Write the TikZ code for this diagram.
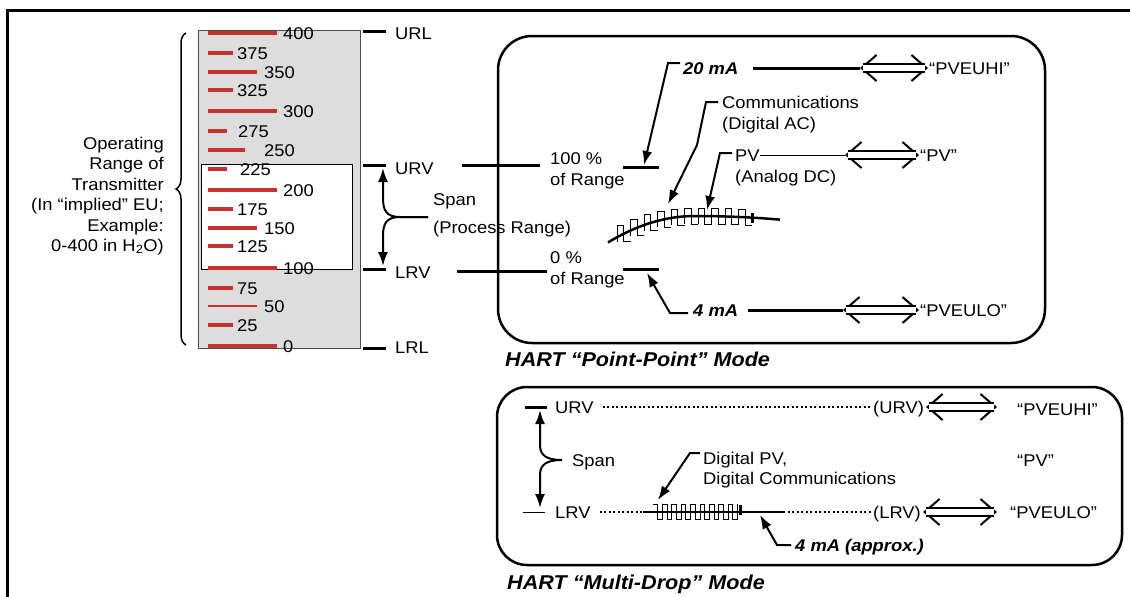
\documentclass[tikz,border=0pt]{standalone}
\usepackage{fontspec}
\setmainfont[FakeStretch=1.08]{Liberation Sans}
\usetikzlibrary{arrows.meta,decorations.pathreplacing}
\definecolor{tickred}{RGB}{200,50,45}
\definecolor{scalegray}{RGB}{221,221,221}
\begin{document}
\begin{tikzpicture}[x=1pt,y=-1pt,
    txt/.style={inner sep=0pt,font=\fontsize{17}{20.4}\selectfont},
    lbl/.style={txt,anchor=west,text height=12pt,text depth=0pt},
    bilbl/.style={lbl,font=\fontsize{17}{20.4}\selectfont\bfseries\itshape},
    modelbl/.style={lbl,font=\fontsize{20}{22}\selectfont\bfseries\itshape},
    redtick/.style={tickred,line width=4pt},
    thk/.style={line width=3pt},
    ptr/.style={line width=2pt,-{Latex[length=14pt,width=10pt]}},
    barb/.tip={Straight Barb[length=15pt,width=26pt,line width=2pt,color=black]},
    dblarr/.style={draw=white,line width=2pt,{barb}-{barb},
      postaction={draw=black,double=white,double distance=6pt,line width=2pt,-,
        shorten <=3pt,shorten >=3pt}},
    rbox/.style={line width=2.5pt,rounded corners=34pt},
    wave/.style={line width=0.9pt},
    dots/.style={line width=2pt,dash pattern=on 2pt off 2.5pt},
  ]
\useasboundingbox (0,0) rectangle (1130,597);
% frame
\draw[line width=3pt] (7,598) -- (7,10) -- (1131,10);

% transmitter scale
\filldraw[fill=scalegray,draw=black!70,line width=1pt] (198,30) rectangle (360,348);
\filldraw[fill=white,line width=1pt] (201,164) rectangle (352,269);
\foreach \v/\y/\e/\l/\w in {400/33/277/283/4, 375/53/233/237/4, 350/72/257/264/4,
    325/90/233/237/4, 300/111/277/283/4, 275/131/227/238/4, 250/150/245/264/4,
    225/169/227/240/4, 200/190/277/283/4, 175/209/233/237/4, 150/228/257/264/4,
    125/246/233/237/4, 100/268/277/283/4, 75/288/233/237/4, 50/306/257/264/1.2,
    25/325/233/237/4, 0/346/277/283/4}
  {\draw[redtick,line width=\w pt] (208,\y) -- (\e,\y);
   \node[lbl] (v\v) at (\l,\y) {\v};}

% operating range
\draw[line width=1.5pt,decorate,decoration={brace,amplitude=10pt}] (186,345) -- (186,33);
\node[txt,align=right,anchor=east] (oprange) at (164,196)
  {Operating\\Range of\\Transmitter\\(In “implied” EU;\\Example:\\0-400 in H\textsubscript{2}O)};

% range marks
\draw[thk] (363,31) -- (386,31);
\node[lbl] (url) at (395,33) {URL};
\draw[thk] (363,165) -- (386,165);
\node[lbl] (urv) at (395,168) {URV};
\draw[thk] (363,269) -- (386,269);
\node[lbl] (lrv) at (395,272) {LRV};
\draw[thk] (363,348) -- (386,348);
\node[lbl] (lrl) at (395,347) {LRL};

% span
\coordinate (spanmid) at (428,217);
\coordinate (spantop) at (383,168);
\coordinate (spanbot) at (383,266);
\draw[ptr] (spanmid) -- (400,217) .. controls (386,217) and (383,210) .. (383,198) -- (spantop);
\draw[ptr] (spanmid) -- (400,217) .. controls (386,217) and (383,224) .. (383,236) -- (spanbot);
\node[lbl] (span) at (433,199) {Span};
\node[lbl] (procrange) at (433,227) {(Process Range)};

% point-point mode
\draw[rbox] (498,36) rectangle (1045,343);
\node[modelbl] (ppmode) at (505,360) {HART “Point-Point” Mode};
\draw[thk] (462,165) -- (540,165);
\draw[thk] (457,271) -- (547,271);
\node[lbl] (hund) at (550,158) {100 \%};
\node[lbl] (hundr) at (550,179) {of Range};
\node[lbl] (zero) at (550,257) {0 \%};
\node[lbl] (zeror) at (550,278) {of Range};
\draw[thk] (623,167) -- (659,167);
\draw[thk] (623,269) -- (659,269);
\coordinate (hi) at (644,165);
\coordinate (lo) at (647,273);

\node[bilbl] (ma20) at (683,68) {20 mA};
\node[lbl] (pveuhi) at (929,68) {“PVEUHI”};
\coordinate (hiend) at (860,68);
\draw[thk] ([xshift=14pt]ma20.east) -- (hiend);
\draw[dblarr] (hiend) -- ([xshift=-1pt]pveuhi.west);
\draw[ptr] (ma20.west) ++(-3,-5) -- ++(-12,0) -- (hi);

\node[lbl] (comm) at (722,102) {Communications};
\node[lbl] (digac) at (722,123) {(Digital AC)};
\coordinate (wavec) at (668,204);
\draw[ptr] (comm.west) ++(-4,0) -- ++(-12,0) -- (697,145) -- (wavec);

\node[lbl] (pvlbl) at (735,155) {PV};
\node[lbl] (pvana) at (735,176) {(Analog DC)};
\node[lbl] (pvq) at (920,155) {“PV”};
\coordinate (pvend) at (845,155);
\coordinate (wavep) at (707,210);
\draw[line width=1pt] (pvlbl.east) -- (pvend);
\draw[dblarr] (pvend) -- ([xshift=-1pt]pvq.west);
\draw[ptr] (pvlbl.west) ++(-3,-2) -- ++(-12,0) -- (wavep);

\node[bilbl] (ma4) at (693,310) {4 mA};
\node[lbl] (pveulo) at (920,310) {“PVEULO”};
\coordinate (loend) at (843,310);
\draw[thk] ([xshift=10pt]ma4.east) -- (loend);
\draw[dblarr] (loend) -- ([xshift=-1pt]pveulo.west);
\draw[ptr] (ma4.west) ++(-5,3) -- ++(-18,0) -- (lo);

% analog signal with digital ripple
\draw[line width=2.5pt,domain=608:780,samples=60]
  plot (\x,{\x<695 ? 216+0.0035*(\x-695)^2 : 216+0.0005*(\x-695)^2});
\foreach \i in {0,...,9} {
  \pgfmathsetmacro\xa{617+13.5*\i}
  \pgfmathsetmacro\xm{\xa+6.75}
  \pgfmathsetmacro\xb{\xa+13.5}
  \pgfmathsetmacro\yb{\xm<695 ? 216+0.0035*(\xm-695)^2 : 216+0.0005*(\xm-695)^2}
  \draw[wave] (\xa,\yb+8) -- (\xa,\yb-8) -- (\xm,\yb-8) -- (\xm,\yb+8) -- (\xb,\yb+8);
}
\draw[line width=3pt] (752,213) -- (752,223);

% multi-drop mode
\draw[rbox,rounded corners=30pt] (497,387) rectangle (1122,565);
\node[modelbl] (mdmode) at (507,583) {HART “Multi-Drop” Mode};
\draw[thk] (525,407) -- (547,407);
\node[lbl] (murv) at (555,407) {URV};
\draw[line width=1pt] (523,512) -- (545,512);
\node[lbl] (mlrv) at (555,512) {LRV};
\node[lbl] (murvq) at (873,407) {(URV)};
\node[lbl] (mlrvq) at (873,512) {(LRV)};
\node[lbl] (mpveuhi) at (1017,409) {“PVEUHI”};
\node[lbl] (mpv) at (1017,460) {“PV”};
\node[lbl] (mpveulo) at (1010,512) {“PVEULO”};
\draw[dots] ([xshift=9pt]murv.east) -- ([xshift=-2pt]murvq.west);
\draw[dblarr] ([xshift=2pt]murvq.east) -- (997,407);
\draw[dblarr] ([xshift=2pt]mlrvq.east) -- (997,512);
\coordinate (mdstart) at (643,512);
\coordinate (mdend) at (783,512);
\draw[dots] ([xshift=9pt]mlrv.east) -- (mdstart);
\draw[line width=2.5pt] (mdstart) -- (mdend);
\draw[dots] (mdend) -- ([xshift=-2pt]mlrvq.west);
\foreach \i in {0,...,8} {
  \pgfmathsetmacro\xa{653+9.4*\i}
  \pgfmathsetmacro\xm{\xa+4.7}
  \pgfmathsetmacro\xb{\xa+9.4}
  \draw[wave] (\xa,504) -- (\xm,504) -- (\xm,519) -- (\xb,519) -- (\xb,504);
}
\draw[line width=3pt] (740,505) -- (740,515);

\coordinate (mspan) at (562,460);
\coordinate (mspantop) at (540,410);
\coordinate (mspanbot) at (540,508);
\draw[ptr] (mspan) .. controls (546,460) and (540,455) .. (540,445) -- (mspantop);
\draw[ptr] (mspan) .. controls (546,460) and (540,465) .. (540,475) -- (mspanbot);
\node[lbl] (mspanl) at (572,460) {Span};

\node[lbl] (dpv) at (703,458) {Digital PV,};
\node[lbl] (dcomm) at (703,478) {Digital Communications};
\coordinate (mwave) at (658,500);
\draw[ptr] (dpv.west) ++(-3,-5) -- ++(-10,0) -- (mwave);

\node[bilbl] (ma4b) at (795,545) {4 mA (approx.)};
\coordinate (mlo) at (760,515);
\draw[ptr] (ma4b.west) ++(-4,0) -- ++(-14,0) -- (mlo);
\end{tikzpicture}
\end{document}
